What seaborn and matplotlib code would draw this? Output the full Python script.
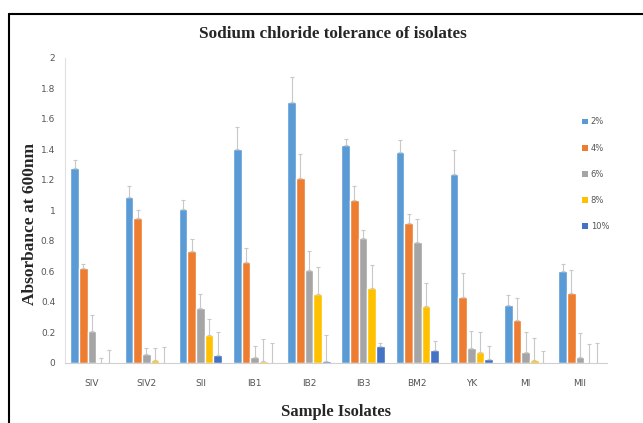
import seaborn as sns
import matplotlib.pyplot as plt
import pandas as pd
from matplotlib.lines import Line2D
from matplotlib.patches import Patch

# Data
isolates = ["SIV", "SIV2", "SII", "IB1", "IB2", "IB3", "BM2", "YK", "MI", "MII"]
levels = ["2%", "4%", "6%", "8%", "10%"]

nacl_2 = [1.28, 1.09, 1.01, 1.40, 1.71, 1.43, 1.38, 1.24, 0.38, 0.60]
nacl_4 = [0.62, 0.95, 0.73, 0.66, 1.21, 1.07, 0.92, 0.43, 0.28, 0.46]
nacl_6 = [0.21, 0.055, 0.36, 0.04, 0.61, 0.82, 0.79, 0.095, 0.07, 0.035]
nacl_8 = [0.0, 0.02, 0.18, 0.01, 0.45, 0.49, 0.37, 0.07, 0.02, 0.0]
nacl_10 = [0.0, 0.0, 0.05, 0.0, 0.013, 0.11, 0.085, 0.026, 0.0, 0.0]

err_2 = [0.05, 0.07, 0.06, 0.15, 0.165, 0.04, 0.08, 0.155, 0.065, 0.05]
err_4 = [0.03, 0.05, 0.08, 0.09, 0.16, 0.09, 0.055, 0.16, 0.145, 0.15]
err_6 = [0.10, 0.04, 0.09, 0.07, 0.125, 0.05, 0.155, 0.115, 0.13, 0.16]
err_8 = [0.03, 0.075, 0.105, 0.145, 0.18, 0.15, 0.155, 0.13, 0.14, 0.12]
err_10 = [0.08, 0.105, 0.15, 0.128, 0.17, 0.02, 0.055, 0.085, 0.077, 0.13]

values = [nacl_2, nacl_4, nacl_6, nacl_8, nacl_10]
errors = [err_2, err_4, err_6, err_8, err_10]
colors = ["#5B9BD5", "#ED7D31", "#A5A5A5", "#FFC000", "#4472C4"]

rows = []
for lvl, vals in zip(levels, values):
    for iso, v in zip(isolates, vals):
        rows.append({"Isolate": iso, "NaCl": lvl, "Absorbance": v})
df = pd.DataFrame(rows)

sns.set_style("white")
fig = plt.figure(figsize=(6.43, 4.23), dpi=100)
ax = fig.add_axes([0.101, 0.1426, 0.843, 0.7204])

sns.barplot(data=df, x="Isolate", y="Absorbance", hue="NaCl", order=isolates,
            hue_order=levels, palette=colors, width=0.8, saturation=1,
            errorbar=None, ax=ax, legend=False)

# one-sided error bars (upper only), as in the original
for cont, errs in zip(ax.containers, errors):
    xs = [b.get_x() + b.get_width() / 2 for b in cont]
    hs = [b.get_height() for b in cont]
    ax.errorbar(xs, hs, yerr=[[0] * len(errs), errs], fmt="none",
                ecolor="#C8C8C8", elinewidth=0.8, capsize=1.5, capthick=0.8)

ax.set_ylim(0, 2)
ax.set_xlim(-0.5, 9.5)
ax.set_yticks([0, 0.2, 0.4, 0.6, 0.8, 1, 1.2, 1.4, 1.6, 1.8, 2])
ax.set_yticklabels(["0", "0.2", "0.4", "0.6", "0.8", "1", "1.2", "1.4", "1.6", "1.8", "2"])
ax.tick_params(axis="both", labelsize=6.5, colors="#555555", length=0)
ax.tick_params(axis="y", length=2, color="#D0D0D0", pad=5)
ax.tick_params(axis="x", pad=12)
for s in ["top", "right"]:
    ax.spines[s].set_visible(False)
ax.spines["left"].set_color("#E0E0E0")
ax.spines["bottom"].set_color("#D0D0D0")
ax.spines["left"].set_linewidth(0.8)
ax.spines["bottom"].set_linewidth(0.8)

serif = ["Liberation Serif", "DejaVu Serif"]
ax.set_xlabel("Sample Isolates", fontsize=12, fontweight="bold", family=serif, labelpad=11)
ax.set_ylabel("Absorbance at 600nm", fontsize=12.5, fontweight="bold", family=serif)
ax.yaxis.set_label_coords(-0.05, 0.455)
fig.text(0.518, 0.92, "Sodium chloride tolerance of isolates", ha="center", va="center",
         fontsize=12.3, fontweight="bold", family=serif)

handles = [Patch(facecolor=c, edgecolor="none") for c in colors]
fig.legend(handles, levels, loc="upper left", bbox_to_anchor=(0.893, 0.74),
           frameon=False, fontsize=6, handlelength=0.7, handleheight=0.7,
           handletextpad=0.4, labelspacing=2.05, labelcolor="#555555")

# frame of the screenshot box
fig.add_artist(Line2D([0.014, 0.014], [0, 0.968], color="black", lw=1.5, transform=fig.transFigure))
fig.add_artist(Line2D([0.014, 1], [0.968, 0.968], color="black", lw=1.5, transform=fig.transFigure))

plt.savefig("out.png", dpi=100)
